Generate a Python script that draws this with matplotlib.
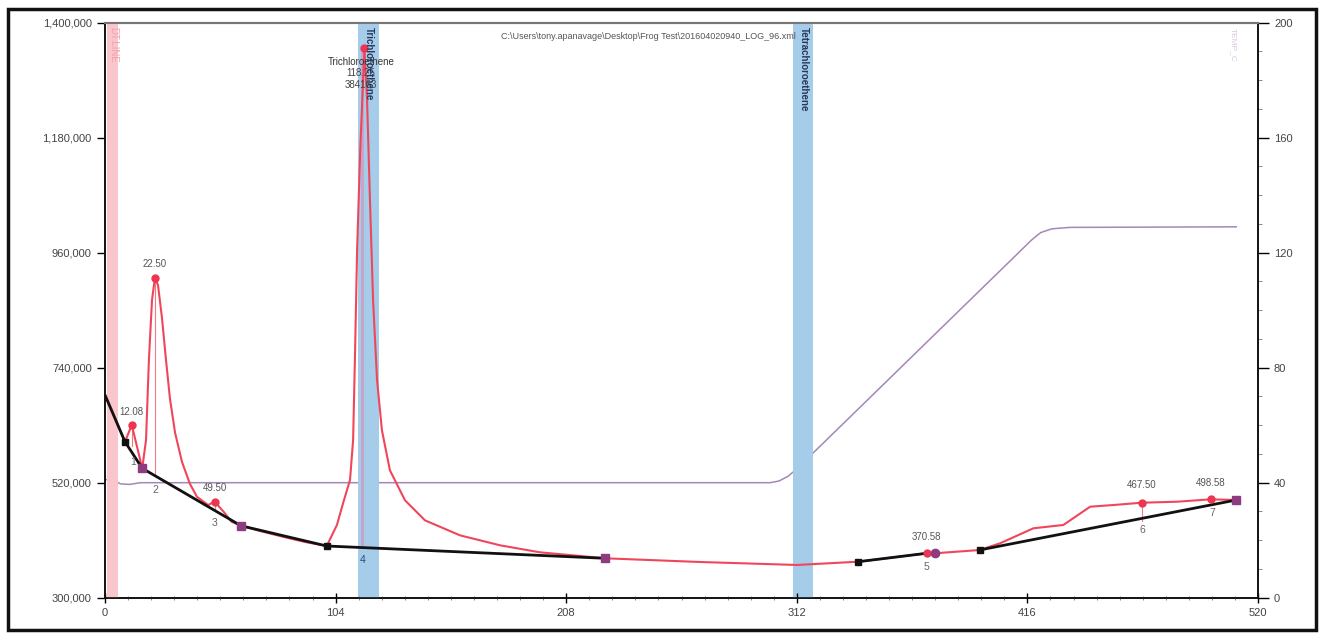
import matplotlib
matplotlib.use("Agg")
import matplotlib.pyplot as plt
from matplotlib.ticker import FuncFormatter, MultipleLocator
from matplotlib.patches import Rectangle

plt.rcParams['font.family'] = ['Liberation Sans', 'DejaVu Sans']

# ---- data ----
red_x = [0, 9.0, 12.08, 16.8, 18.5, 19.8, 21.2, 22.5, 23.9, 25.7, 27.5, 29.3, 31.6, 34.7,
         38.3, 41.5, 46.5, 49.5, 53.6, 57.1, 61.3, 69.9, 80.7, 90.2, 100, 104.6, 107.4,
         110.5, 111.9, 112.8, 113.7, 115.1, 117.0, 118.2, 119.5, 120.9, 122.7, 124.9,
         128.5, 135.3, 144.3, 160.1, 178.2, 196.2, 225.5, 268.4, 312.1, 339.8, 370.58,
         374.4, 394.4, 403.7, 418.7, 432.2, 444.3, 454.8, 467.5, 483.4, 498.58, 510.2]
red_y = [687800, 598400, 630400, 547500, 601700, 754700, 869500, 911600, 898200, 835200,
         755200, 680600, 615700, 560100, 517800, 492900, 477300, 483600, 463900, 445400,
         437700, 427600, 416100, 406600, 398900, 439100, 481200, 525200, 601700, 773900,
         965200, 1156500, 1351000, 1251500, 1060400, 869100, 716000, 620200, 543700,
         486300, 448000, 419300, 400200, 386800, 375400, 368300, 362600, 368900, 385000,
         385000, 391200, 404100, 432800, 439100, 474100, 477300, 481700, 483600, 488200,
         486900]

base_a_x = [0, 9.0, 16.8, 61.3, 100, 225.5]
base_a_y = [687800, 598400, 547500, 437700, 398900, 375400]
base_b_x = [339.8, 370.58]
base_b_y = [368900, 385000]
base_c_x = [394.4, 510.2]
base_c_y = [391200, 486900]

black_mk_x = [9.0, 100, 339.8, 394.4]
black_mk_y = [598400, 398900, 368900, 391200]
purple_sq_x = [16.8, 61.3, 225.5, 510.2]
purple_sq_y = [547500, 437700, 375400, 486900]
purple_ci_x = [374.4]
purple_ci_y = [385000]

peak_x = [12.08, 22.50, 49.50, 117.0, 370.58, 467.50, 498.58]
peak_y = [630400, 911600, 483600, 1351000, 385000, 481700, 488200]
peak_base = [590000, 533400, 468000, 397500, 382000, 446000, 482000]
peak_labels = ["12.08", "22.50", "49.50", None, "370.58", "467.50", "498.58"]
peak_label_y = [655800, 938000, 510000, None, 416100, 515600, 519400]
index_labels = ["1", "2", "3", "4", "5", "6", "7"]
index_x = [12.6, 22.5, 49.6, 116.0, 370.6, 467.7, 499.3]
index_y = [559000, 506000, 443000, 372000, 358600, 429500, 462000]

temp_x = [0, 3, 7, 11, 16, 300, 304, 308, 312, 418, 422, 427, 435, 510.2]
temp_y = [41, 41.2, 39.6, 39.4, 40, 40, 40.6, 42.2, 44.8, 124.5, 127, 128.3, 128.8, 129]

bands = [(1.0, 6.0, '#f9c6cd'), (114.1, 123.6, '#a5cdea'), (310.5, 319.5, '#a5cdea')]
band_names = [("DT.LINE", 3.5, '#f2a0ab'), ("Trichloroethene", 118.9, '#27385c'),
              ("Tetrachloroethene", 315.0, '#27385c')]

left_ticks = [300000, 520000, 740000, 960000, 1180000, 1400000]
right_ticks = [0, 40, 80, 120, 160, 200]
x_ticks = [0, 104, 208, 312, 416, 520]

title = "C:\\Users\\tony.apanavage\\Desktop\\Frog Test\\201604020940_LOG_96.xml"

# ---- figure ----
W, H = 1319, 633
fig = plt.figure(figsize=(W / 100, H / 100), dpi=100)
ax = fig.add_axes([105 / W, 1 - 597.7 / H, (1258 - 105) / W, (597.7 - 22.7) / H])
ax2 = ax.twinx()
ax.set_zorder(ax2.get_zorder() + 1)
ax.patch.set_visible(False)

ax.set_xlim(0, 520)
ax.set_ylim(300000, 1400000)
ax2.set_ylim(0, 200)

for x0, x1, c in bands:
    ax.axvspan(x0, x1, color=c, zorder=1, lw=0)

ax2.plot(temp_x, temp_y, color='#a487b8', lw=1.1)

for i, (px, py, pb) in enumerate(zip(peak_x, peak_y, peak_base)):
    if i == 3:
        ax.plot([px - 1.2, px - 1.2], [pb, py], color='#c9a2c8', lw=2, zorder=2)
    else:
        ax.plot([px, px], [pb, py], color='#f27a86', lw=0.8, zorder=2)

ax.plot(red_x, red_y, color='#f0465b', lw=1.5, zorder=3)

for bx, by in [(base_a_x, base_a_y), (base_b_x, base_b_y), (base_c_x, base_c_y)]:
    ax.plot(bx, by, color='#111111', lw=2, zorder=4)

ax.plot(peak_x, peak_y, 'o', color='#ec3550', ms=5, zorder=5)
ax.plot(black_mk_x, black_mk_y, 's', color='#111111', ms=4.5, zorder=6)
ax.plot(purple_sq_x, purple_sq_y, 's', color='#8e3c80', ms=6, zorder=6)
ax.plot(purple_ci_x, purple_ci_y, 'o', color='#8e3c80', ms=6, zorder=6)

for lab, px, ly in zip(peak_labels, peak_x, peak_label_y):
    if lab:
        ax.text(px, ly, lab, ha='center', va='center', fontsize=7, color='#555555', zorder=7)
for lab, ix, iy in zip(index_labels, index_x, index_y):
    col = '#2f4a7a' if lab == "4" else '#666666'
    ax.text(ix, iy, lab, ha='center', va='center', fontsize=7.5, color=col, zorder=7)

ax.text(115.5, 1325400, "Trichloroethene", ha='center', va='center', fontsize=7,
        color='#333333', zorder=7)
ax.text(115.5, 1304300, "118.25", ha='center', va='center', fontsize=7, color='#444444', zorder=7)
ax.text(115.5, 1281000, "384163", ha='center', va='center', fontsize=7, color='#444444', zorder=7)

for name, bx, col in band_names:
    ax.text(bx, 1392000, name, rotation=-90, ha='center', va='top', fontsize=7,
            color=col, fontweight='bold' if col != '#f2a0ab' else 'normal', zorder=8)
ax.text(508.6, 1390000, "TEMP_C", rotation=-90, ha='center', va='top', fontsize=6,
        color='#d9c9e3', zorder=8)

ax.text(245, 1374000, title, ha='center', va='center', fontsize=6.5, color='#555555', zorder=8)

ax.set_xticks(x_ticks)
ax.set_yticks(left_ticks)
ax.yaxis.set_major_formatter(FuncFormatter(lambda v, p: f"{v:,.0f}"))
ax2.set_yticks(right_ticks)
ax.xaxis.set_minor_locator(MultipleLocator(10.4))
ax2.yaxis.set_minor_locator(MultipleLocator(10))

ax.tick_params(axis='x', which='major', direction='inout', length=7, width=1,
               labelsize=8, labelcolor='#444444', pad=4)
ax.tick_params(axis='x', which='minor', direction='inout', length=3, width=0.6, color='#777777')
ax.tick_params(axis='y', which='major', direction='out', length=6, width=1,
               labelsize=8, labelcolor='#444444')
ax2.tick_params(axis='y', which='major', direction='out', length=8, width=1,
                labelsize=8, labelcolor='#444444')
ax2.tick_params(axis='y', which='minor', direction='out', length=3, width=0.6, color='#777777')

for a in (ax, ax2):
    a.spines['left'].set_color('#111111')
    a.spines['bottom'].set_color('#111111')
    a.spines['right'].set_color('#111111')
    a.spines['top'].set_color('#777777')
    a.spines['top'].set_linewidth(1.5)
    for s in ('left', 'bottom', 'right'):
        a.spines[s].set_linewidth(1.2)

fig.patches.append(Rectangle((8 / W, 3 / H), (1316 - 8) / W, (624 - 3) / H,
                             transform=fig.transFigure, fill=False, lw=2.5,
                             edgecolor='#111111'))

fig.savefig("out.png", dpi=100)
